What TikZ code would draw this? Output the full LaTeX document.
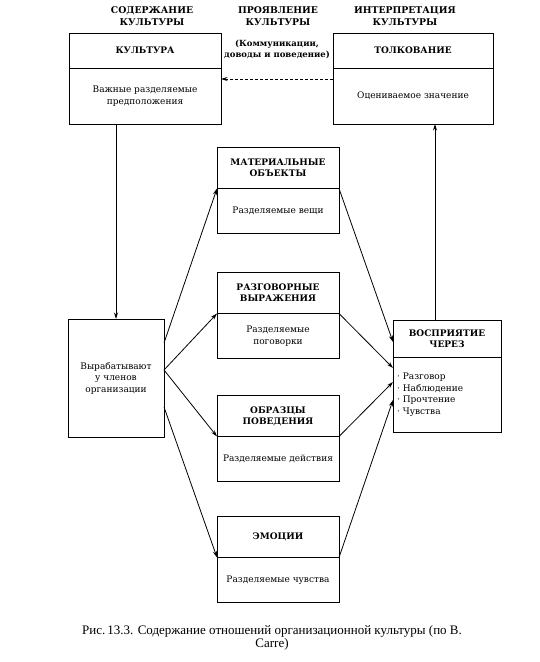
\documentclass[tikz,border=0pt]{standalone}
\usepackage{fontspec}
\setmainfont{Liberation Serif}
\newfontfamily\dvserif{DejaVu Serif}
\usetikzlibrary{positioning,arrows.meta}
\tikzstyle{head}=[draw, line width=0.9pt, outer sep=0pt, inner sep=2pt, align=center, font=\dvserif\bfseries\fontsize{9}{11}\selectfont]
\tikzstyle{body}=[draw, line width=0.9pt, outer sep=0pt, inner sep=2pt, align=center, font=\dvserif\fontsize{9}{11.5}\selectfont]
\tikzstyle{colhead}=[align=center, font=\dvserif\bfseries\fontsize{9.3}{11.5}\selectfont]
\tikzstyle{arr}=[-{Stealth[length=6.5pt,width=4pt]}, line width=0.8pt]

\begin{document}
\begin{tikzpicture}[x=1pt,y=-1pt]
				\useasboundingbox (0,0) rectangle (539,662);

				\node[colhead] (h1) at (152,16) {СОДЕРЖАНИЕ\\КУЛЬТУРЫ};
				\node[colhead] (h2) at (278,16) {ПРОЯВЛЕНИЕ\\КУЛЬТУРЫ};
				\node[colhead] (h3) at (405,16) {ИНТЕРПРЕТАЦИЯ\\КУЛЬТУРЫ};
				\node[colhead, font=\dvserif\bfseries\fontsize{8.5}{11}\selectfont] (comm) at (277,49) {(Коммуникации,\\доводы и поведение)};

				\node[head, minimum width=152pt, minimum height=35pt] (kt) at (145,50.5) {КУЛЬТУРА};
				\node[body, minimum width=152pt, minimum height=56pt, below=0pt of kt] (kb) {Важные разделяемые\\предположения};

				\node[head, minimum width=160pt, minimum height=35pt] (tt) at (413,50.5) {ТОЛКОВАНИЕ};
				\node[body, minimum width=160pt, minimum height=56pt, below=0pt of tt] (tb) {Оцениваемое значение};

				\node[body, minimum width=96pt, minimum height=118pt] (vy) at (116,378) {Вырабатывают\\у членов\\организации};

				\node[head, minimum width=122pt, minimum height=41pt] (m1t) at (278,168) {МАТЕРИАЛЬНЫЕ\\ОБЪЕКТЫ};
				\node[body, minimum width=122pt, minimum height=45pt, below=0pt of m1t] (m1b) {Разделяемые вещи};
				\node[head, minimum width=122pt, minimum height=41pt] (m2t) at (278,293) {РАЗГОВОРНЫЕ\\ВЫРАЖЕНИЯ};
				\node[body, minimum width=122pt, minimum height=45pt, below=0pt of m2t] (m2b) {Разделяемые\\поговорки};
				\node[head, minimum width=122pt, minimum height=41pt] (m3t) at (278,416) {ОБРАЗЦЫ\\ПОВЕДЕНИЯ};
				\node[body, minimum width=122pt, minimum height=45pt, below=0pt of m3t] (m3b) {Разделяемые действия};
				\node[head, minimum width=122pt, minimum height=41pt] (m4t) at (278,537) {ЭМОЦИИ};
				\node[body, minimum width=122pt, minimum height=45pt, below=0pt of m4t] (m4b) {Разделяемые чувства};

				\node[head, minimum width=108pt, minimum height=37pt] (vt) at (447,338.5) {ВОСПРИЯТИЕ\\ЧЕРЕЗ};
				\node[body, minimum width=108pt, minimum height=75pt, text width=100pt, inner sep=4pt, align=left, below=0pt of vt] (vb) {· Разговор\\· Наблюдение\\· Прочтение\\· Чувства};

				\draw[arr] (kb.south -| vy.north) -- (vy.north);
				\draw[arr] ([xshift=-12pt]vt.north) -- ([xshift=-12pt]vt.north |- tb.south);
				\draw[arr, dash pattern=on 3pt off 2pt] ([yshift=17pt]tb.west) -- ([yshift=17pt]kb.east);

				\draw[arr] ([yshift=35pt]vy.east) -- (m1b.north west);
				\draw[arr] ([yshift=8pt]vy.east) -- (m2b.north west);
				\draw[arr] ([yshift=8pt]vy.east) -- (m3b.north west);
				\draw[arr] ([yshift=-29pt]vy.east) -- (m4b.north west);

				\draw[arr] (m1b.north east) -- ([yshift=-3.5pt]vt.west);
				\draw[arr] (m2b.north east) -- ([yshift=26.5pt]vb.west);
				\draw[arr] (m3b.north east) -- ([yshift=12.5pt]vb.west);
				\draw[arr] (m4b.north east) -- ([yshift=-5.5pt]vb.west);

				\node[align=center, font=\fontsize{13}{13}\selectfont] (cap) at (272,638) {Рис.\,13.3. Содержание отношений организационной культуры (по В.\\Carre)};
			\end{tikzpicture}
\end{document}
